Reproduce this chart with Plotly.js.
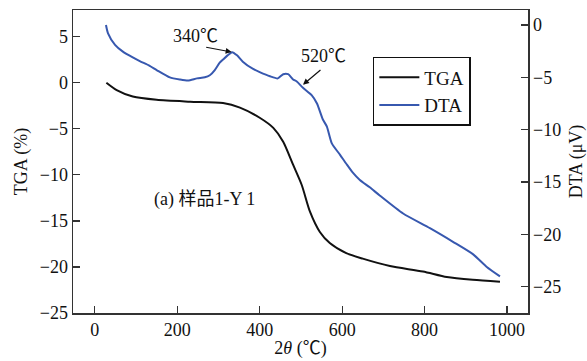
<!DOCTYPE html>
<html>
<head>
<meta charset="utf-8">
<script src="https://cdn.plot.ly/plotly-3.0.1.min.js"></script>
<style>html,body{margin:0;padding:0;background:#fff;}#chart{width:587px;height:361px;}</style>
</head>
<body>
<div id="chart"></div>
<script>
const tgaTemp = [28, 53, 92, 150, 231, 311, 352, 400, 433, 457, 481, 502, 522, 546, 570, 610, 650, 716, 796, 854, 917, 983];
const tgaVal  = [0, -0.8, -1.5, -1.85, -2.05, -2.2, -2.7, -3.8, -4.9, -6.4, -8.9, -11.1, -14.0, -16.2, -17.4, -18.5, -19.1, -19.9, -20.5, -21.1, -21.4, -21.6];

const dtaTemp = [27, 32, 49, 68, 92, 109, 133, 150, 182, 206, 226, 248, 267, 279, 291, 303, 311, 322, 333, 345, 359, 384, 400, 425, 444, 457, 469, 481, 490, 505, 526, 539, 553, 563, 575, 595, 611, 626, 643, 667, 692, 748, 813, 869, 918, 951, 983];
const dtaVal  = [0, -0.8, -1.9, -2.55, -3.1, -3.45, -3.9, -4.3, -5.0, -5.2, -5.3, -5.1, -5.0, -4.8, -4.3, -3.6, -3.3, -2.9, -2.6, -2.9, -3.5, -4.2, -4.5, -4.9, -5.1, -4.7, -4.7, -5.2, -5.4, -6.0, -6.7, -7.5, -9.0, -9.7, -11.3, -12.4, -13.3, -14.1, -14.8, -15.5, -16.3, -18.0, -19.4, -20.7, -21.9, -23.1, -24.0];

const xTicks = [0, 200, 400, 600, 800, 1000];
const yTicks = [5, 0, -5, -10, -15, -20, -25];
const y2Ticks = [0, -5, -10, -15, -20, -25];

const FONT = 'Liberation Serif, Times New Roman, Noto Sans CJK SC, serif';
const AX = '#333';

const traces = [
  {x: tgaTemp, y: tgaVal, type: 'scatter', mode: 'lines', name: 'TGA',
   line: {color: '#111', width: 2, shape: 'spline', smoothing: 0.7}, yaxis: 'y'},
  {x: dtaTemp, y: dtaVal, type: 'scatter', mode: 'lines', name: 'DTA',
   line: {color: 'rgb(55,88,175)', width: 2, shape: 'spline', smoothing: 0.6}, yaxis: 'y2'}
];

const layout = {
  width: 587, height: 361,
  margin: {l: 73, r: 59, t: 10, b: 48},
  paper_bgcolor: '#fff', plot_bgcolor: '#fff',
  font: {family: FONT, size: 18, color: '#111'},
  showlegend: true,
  legend: {x: 0.659, y: 0.845, xanchor: 'left', yanchor: 'top',
    bordercolor: '#111', borderwidth: 1.5, bgcolor: '#fff', itemwidth: 40,
    font: {family: FONT, size: 19}, tracegroupgap: 0},
  xaxis: {range: [-53, 1051], tickvals: xTicks, ticks: 'inside', ticklen: 7,
    tickcolor: AX, tickwidth: 1.2, showline: true, linecolor: AX, linewidth: 1.5,
    mirror: true, showgrid: false, zeroline: false,
    title: {text: '2<i>θ</i> (℃)', standoff: 2, font: {family: FONT, size: 18}}},
  yaxis: {range: [-25, 7.9], tickvals: yTicks, ticks: 'inside', ticklen: 7,
    tickcolor: AX, tickwidth: 1.2, showline: true, linecolor: AX, linewidth: 1.5,
    showgrid: false, zeroline: false,
    title: {text: 'TGA (%)', font: {family: FONT, size: 18}}},
  yaxis2: {range: [-27.5, 1.43], tickvals: y2Ticks, overlaying: 'y', side: 'right',
    ticks: 'inside', ticklen: 7, tickcolor: AX, tickwidth: 1.2,
    showline: true, linecolor: AX, linewidth: 1.5, showgrid: false, zeroline: false,
    title: {text: 'DTA (μV)', font: {family: FONT, size: 18}}},
  annotations: [
    {x: 245, y: -1.05, xref: 'x', yref: 'y2', text: '340℃', showarrow: false,
     font: {family: FONT, size: 18}},
    {x: 556, y: -2.96, xref: 'x', yref: 'y2', text: '520℃', showarrow: false,
     font: {family: FONT, size: 18}},
    {x: 332, y: -2.58, xref: 'x', yref: 'y2', text: '', showarrow: true,
     ax: -27, ay: -5, arrowhead: 2, arrowsize: 1, arrowwidth: 1.2, arrowcolor: '#111', standoff: 0},
    {x: 505, y: -5.7, xref: 'x', yref: 'y2', text: '', showarrow: true,
     ax: 19, ay: -16, arrowhead: 2, arrowsize: 1, arrowwidth: 1.2, arrowcolor: '#111', standoff: 0},
    {x: 267, y: -12.7, xref: 'x', yref: 'y', text: '(a) 样品1-Y 1', showarrow: false,
     font: {family: FONT, size: 18}}
  ]
};

Plotly.newPlot('chart', traces, layout, {displayModeBar: false, staticPlot: true});
</script>
</body>
</html>
